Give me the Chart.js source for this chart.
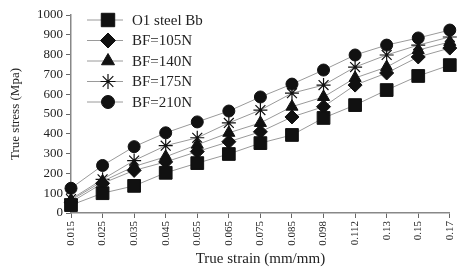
<!DOCTYPE html>
<html>
<head>
<meta charset="utf-8">
<script src="https://cdn.jsdelivr.net/npm/chart.js@4"></script>
<style>
  html, body { margin: 0; padding: 0; background: #fff; }
  #wrap { width: 466px; height: 271px; position: relative; }
</style>
</head>
<body>
<div id="wrap"><canvas id="chart"></canvas></div>
<script>
// strain categories (mm/mm)
const strains = ['0.015', '0.025', '0.035', '0.045', '0.055', '0.065', '0.075', '0.085', '0.098', '0.112', '0.13', '0.15', '0.17'];

// true stress values (MPa)
const o1Steel = [40, 100, 137, 203, 252, 298, 353, 394, 480, 545, 621, 692, 747];
const bf105 = [55, 150, 215, 258, 310, 360, 410, 485, 537, 646, 707, 788, 833];
const bf140 = [65, 160, 235, 284, 345, 405, 455, 537, 586, 682, 737, 823, 864];
const bf175 = [70, 170, 265, 340, 380, 455, 520, 605, 646, 737, 798, 848, 889];
const bf210 = [125, 240, 335, 405, 460, 515, 586, 651, 722, 798, 848, 884, 924];

const seriesNames = ['O1 steel Bb', 'BF=105N', 'BF=140N', 'BF=175N', 'BF=210N'];
const yTicks = [0, 100, 200, 300, 400, 500, 600, 700, 800, 900, 1000];

const serif = 'Liberation Serif';
const ink = '#222';

function series(label, data, style, radius) {
    return {
        label: label,
        data: data,
        borderColor: '#9a9a9a',
        borderWidth: 1,
        pointStyle: style,
        pointRadius: radius,
        pointBackgroundColor: '#111',
        pointBorderColor: '#111',
        pointBorderWidth: style === 'star' ? 1.2 : 1,
        fill: false,
        tension: 0
    };
}

// legend drawn as line + marker, like the original figure
const lineLegend = {
    id: 'lineLegend',
    afterDraw(c) {
        const ctx = c.ctx;
        ctx.save();
        c.data.datasets.forEach((ds, i) => {
            const y = 20 + i * 20.5;
            ctx.strokeStyle = '#9a9a9a';
            ctx.lineWidth = 1;
            ctx.beginPath();
            ctx.moveTo(87, y);
            ctx.lineTo(123, y);
            ctx.stroke();
            ctx.fillStyle = '#111';
            ctx.strokeStyle = '#111';
            ctx.lineWidth = ds.pointBorderWidth;
            Chart.helpers.drawPoint(ctx, { pointStyle: ds.pointStyle, radius: ds.pointRadius + 0.5, borderWidth: ds.pointBorderWidth }, 108, y);
            ctx.fillStyle = ink;
            ctx.font = '15px "' + serif + '"';
            ctx.textBaseline = 'middle';
            ctx.textAlign = 'left';
            ctx.fillText(ds.label, 132, y + 1);
        });
        ctx.restore();
    }
};

new Chart(document.querySelector('#chart').getContext('2d'), {
    type: 'line',
    data: {
        labels: strains,
        datasets: [
            series(seriesNames[0], o1Steel, 'rect', 9),
            series(seriesNames[1], bf105, 'rectRot', 7),
            series(seriesNames[2], bf140, 'triangle', 7),
            series(seriesNames[3], bf175, 'star', 7),
            series(seriesNames[4], bf210, 'circle', 6)
        ]
    },
    options: {
        responsive: true,
        maintainAspectRatio: false,
        animation: false,
        layout: { padding: { top: 15, right: 3, left: 0, bottom: 0 } },
        plugins: {
            legend: { display: false },
            tooltip: { enabled: false }
        },
        scales: {
            x: {
                offset: false,
                afterFit(s) { s.height = 58; },
                grid: { drawOnChartArea: false, drawTicks: true, tickLength: 5, color: '#666' },
                border: { color: '#888', width: 1.5 },
                ticks: {
                    autoSkip: false,
                    minRotation: 90,
                    maxRotation: 90,
                    color: ink,
                    padding: 3,
                    font: { family: serif, size: 11 }
                },
                title: {
                    display: true,
                    text: 'True strain (mm/mm)',
                    color: ink,
                    padding: { top: 0, bottom: 3 },
                    font: { family: serif, size: 15 }
                }
            },
            y: {
                min: 0,
                max: 1000,
                afterFit(s) { s.width = 71; },
                afterBuildTicks(s) { s.ticks = yTicks.map(v => ({ value: v })); },
                grid: { drawOnChartArea: false, drawTicks: true, tickLength: 5, color: '#666' },
                border: { color: '#888', width: 1.5 },
                ticks: {
                    color: ink,
                    padding: 3,
                    font: { family: serif, size: 13 },
                    callback: v => String(v)
                },
                title: {
                    display: true,
                    text: 'True stress (Mpa)',
                    color: ink,
                    padding: { top: 8, bottom: 0 },
                    font: { family: serif, size: 13 }
                }
            }
        }
    },
    plugins: [lineLegend]
});
</script>
</body>
</html>
